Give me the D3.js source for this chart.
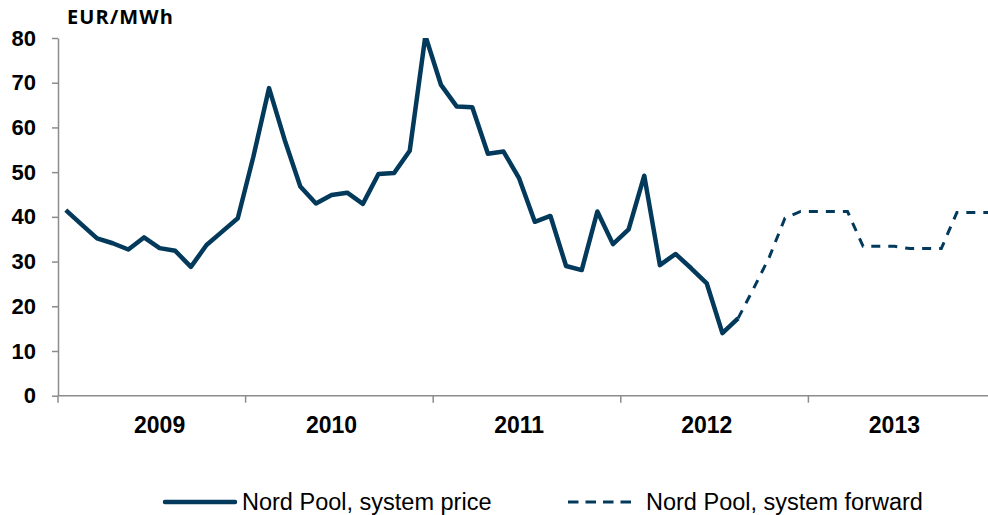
<!DOCTYPE html>
<html>
<head>
<meta charset="utf-8">
<script src="https://cdn.jsdelivr.net/npm/d3@7"></script>
<style>
  body { margin: 0; background: #fff; }
  svg { display: block; font-family: "Liberation Sans", Arial, sans-serif; }
</style>
</head>
<body>
<svg id="chart"></svg>
<script>
// Monthly categories, Jan 2009 - Dec 2013
var months = d3.timeMonth.range(new Date(2009, 0, 1), new Date(2014, 0, 1));

// Nord Pool system price, Jan 2009 - Aug 2012 (EUR/MWh)
var systemPrice = [
  41.5, 38.3, 35.2, 34.1, 32.7, 35.4, 33.0, 32.4, 28.8, 33.7, 36.7, 39.7,
  53.5, 68.8, 57.2, 46.8, 43.0, 44.9, 45.4, 42.9, 49.6, 49.8, 54.8, 80.5,
  69.5, 64.7, 64.5, 54.1, 54.6, 48.6, 38.9, 40.2, 29.0, 28.1, 41.2, 33.9,
  37.2, 49.2, 29.2, 31.7, 28.5, 25.1, 14.0, 17.3
];

// Nord Pool system forward, Aug 2012 - Dec 2013 (EUR/MWh)
var forwardStart = 43; // index of Aug 2012 in months
var systemForward = [
  17.3, 24.0, 31.0, 39.7, 41.2, 41.2, 41.2, 41.2, 33.4,
  33.4, 33.4, 32.9, 32.9, 32.9, 41.0, 41.0, 41.0
];

// Axis ticks and labels
var yTicks = [0, 10, 20, 30, 40, 50, 60, 70, 80];
var yearTicks = [2009, 2010, 2011, 2012, 2013];
var yearLabels = ["2009", "2010", "2011", "2012", "2013"];
var yearLabelMonth = [6, 5, 5, 5, 5]; // month of year where Excel put each label

var lineColor = "#033a5c";
var axisColor = "#8c8c8c";

var svgWidth = 988, svgHeight = 515;
var plotLeft = 58, plotRight = 996, plotTop = 38, plotBottom = 395.7;

var svg = d3.select("#chart")
  .attr("width", svgWidth)
  .attr("height", svgHeight);

// Scales
var x = d3.scaleBand()
  .domain(d3.range(months.length))
  .range([plotLeft, plotRight])
  .padding(0);
var y = d3.scaleLinear()
  .domain([0, 80])
  .range([plotBottom, plotTop]);

function cx(i) { return x(i) + x.bandwidth() / 2; }

// Clip so the Dec 2010 peak is cut at the top like the original
svg.append("clipPath").attr("id", "plot")
  .append("rect")
  .attr("x", plotLeft).attr("y", plotTop)
  .attr("width", plotRight - plotLeft).attr("height", plotBottom - plotTop + 5);

// Y axis
var yAxis = svg.append("g")
  .attr("transform", "translate(" + plotLeft + ",0)")
  .call(d3.axisLeft(y).tickValues(yTicks).tickSize(6).tickPadding(16).tickSizeOuter(0));
yAxis.select(".domain").attr("stroke", axisColor).attr("stroke-width", 1.5);
yAxis.selectAll(".tick line").attr("stroke", axisColor).attr("stroke-width", 1.5);
yAxis.selectAll(".tick text")
  .attr("fill", "#000")
  .style("font-size", "22px")
  .style("font-weight", "bold")
  .style("font-family", "'Liberation Sans', Arial, sans-serif");

// X axis: baseline plus year boundary ticks
var xAxis = svg.append("g");
xAxis.append("line")
  .attr("x1", plotLeft).attr("x2", plotRight)
  .attr("y1", y(0)).attr("y2", y(0))
  .attr("stroke", axisColor).attr("stroke-width", 1.5);
xAxis.selectAll(".ytick")
  .data(yearTicks)
  .enter()
  .append("line")
  .attr("x1", function(d, i) { return x(i * 12); })
  .attr("x2", function(d, i) { return x(i * 12); })
  .attr("y1", y(0))
  .attr("y2", y(0) + 7)
  .attr("stroke", axisColor).attr("stroke-width", 1.5);
xAxis.selectAll(".ylabel")
  .data(yearLabels)
  .enter()
  .append("text")
  .text(function(d) { return d; })
  .attr("x", function(d, i) { return cx(i * 12 + yearLabelMonth[i]); })
  .attr("y", 433)
  .attr("text-anchor", "middle")
  .style("font-size", "23px")
  .style("font-weight", "bold");

// Unit title
svg.append("text")
  .text("EUR/MWh")
  .attr("x", 67)
  .attr("y", 24)
  .attr("textLength", 106)
  .style("font-size", "20px")
  .style("font-weight", "bold")
  .style("font-family", "'Open Sans', 'Liberation Sans', sans-serif");

// Lines
var priceLine = d3.line()
  .x(function(d, i) { return cx(i); })
  .y(function(d) { return y(d); });
var forwardLine = d3.line()
  .x(function(d, i) { return cx(forwardStart + i); })
  .y(function(d) { return y(d); });

var plot = svg.append("g").attr("clip-path", "url(#plot)");

plot.append("path")
  .datum(systemForward)
  .attr("d", forwardLine)
  .attr("fill", "none")
  .attr("stroke", lineColor)
  .attr("stroke-width", 3)
  .attr("stroke-dasharray", "9,8");

plot.append("path")
  .datum(systemPrice)
  .attr("d", priceLine)
  .attr("fill", "none")
  .attr("stroke", lineColor)
  .attr("stroke-width", 4.5)
  .attr("stroke-linejoin", "round");

// Legend
var legend = svg.append("g");
legend.append("line")
  .attr("x1", 165).attr("x2", 235)
  .attr("y1", 502).attr("y2", 502)
  .attr("stroke", lineColor).attr("stroke-width", 4.5)
  .attr("stroke-linecap", "round");
legend.append("text")
  .text("Nord Pool, system price")
  .attr("x", 242).attr("y", 510)
  .style("font-size", "23.5px");
legend.append("line")
  .attr("x1", 568).attr("x2", 634)
  .attr("y1", 502).attr("y2", 502)
  .attr("stroke", lineColor).attr("stroke-width", 3)
  .attr("stroke-dasharray", "10.5,7");
legend.append("text")
  .text("Nord Pool, system forward")
  .attr("x", 646).attr("y", 510)
  .style("font-size", "23.5px");
</script>
</body>
</html>
